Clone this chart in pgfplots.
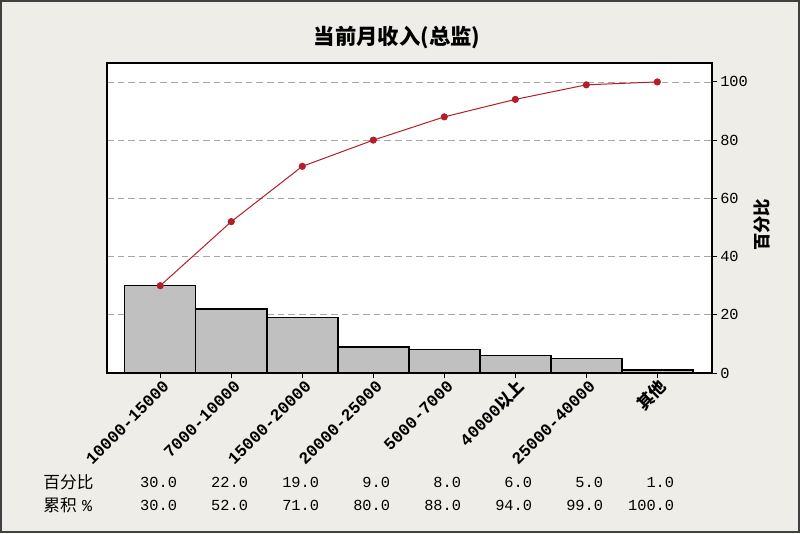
\documentclass[border=0pt]{standalone}
\usepackage{fontspec}
\usepackage{pgfplots}
\pgfplotsset{compat=1.18}
\setmainfont{Liberation Serif}
\newfontfamily\cjk{Noto Sans CJK SC}
\newfontfamily\mono{Liberation Mono}
\definecolor{bg}{RGB}{238,237,232}
\definecolor{barfill}{RGB}{192,192,192}
\definecolor{cumred}{RGB}{180,30,40}
\tikzset{tablerow/.style={anchor=east, font=\mono\fontsize{11.5}{12}\selectfont, inner sep=0pt}}
\begin{document}
\begin{tikzpicture}
\fill[bg] (0,0) rectangle (600pt,399.75pt);
\draw[black!75, line width=1.2pt] (0.6pt,0.6pt) rectangle (599.4pt,399.15pt);
\begin{axis}[
  at={(80.25pt,120pt)}, anchor=south west,
  scale only axis, width=453.75pt, height=232.5pt,
  xmin=-0.75, xmax=7.77, ymin=0, ymax=106.5,
  axis background/.style={fill=white},
  axis line style={black, line width=1.1pt},
  xtick={0,...,7},
  xticklabels={10000-15000,7000-10000,15000-20000,20000-25000,5000-7000,40000{\cjk 以上},25000-40000,{\cjk 其他}},
  xticklabel style={rotate=45, anchor=east, font=\mono\bfseries\fontsize{12.5}{13}\selectfont, inner sep=1pt, yshift=-6pt, xshift=1.5pt},
  ytick={0,20,...,100},
  ytick pos=right, yticklabel pos=right, xtick pos=bottom,
  tick align=outside, major tick length=4pt,
  tick style={black, line width=0.75pt},
  /pgf/number format/assume math mode=true,
  yticklabel style={font=\mono\fontsize{11.5}{12}\selectfont, inner sep=2pt},
  ymajorgrids, grid style={dash pattern=on 5pt off 3pt, black!35, line width=0.6pt},
  clip=false,
]
\addplot[ybar, bar width=1, fill=barfill, draw=black, line width=1.1pt] coordinates {
  (0,30) (1,22) (2,19) (3,9) (4,8) (5,6) (6,5) (7,1)};
\addplot[cumred, line width=0.75pt, mark=*, mark size=2.3pt, mark options={fill=cumred, draw=cumred}] coordinates {
  (0,30) (1,52) (2,71) (3,80) (4,88) (5,94) (6,99) (7,100)};
\node[rotate=90, font=\cjk\bfseries\fontsize{13}{13}\selectfont] at (axis cs:8.48,50.9) {百分比};
\node[anchor=west, font=\cjk\fontsize{12.5}{13}\selectfont, inner sep=0pt] at (axis cs:-1.648,-37.46) {百分比};
\node[anchor=west, font=\cjk\fontsize{12.5}{13}\selectfont, inner sep=0pt] at (axis cs:-1.648,-45.36) {累积\hspace{4pt}{\mono\%}};
\node[tablerow] at (axis cs:0.24,-37.46) {30.0};
\node[tablerow] at (axis cs:1.24,-37.46) {22.0};
\node[tablerow] at (axis cs:2.24,-37.46) {19.0};
\node[tablerow] at (axis cs:3.24,-37.46) {9.0};
\node[tablerow] at (axis cs:4.24,-37.46) {8.0};
\node[tablerow] at (axis cs:5.24,-37.46) {6.0};
\node[tablerow] at (axis cs:6.24,-37.46) {5.0};
\node[tablerow] at (axis cs:7.24,-37.46) {1.0};
\node[tablerow] at (axis cs:0.24,-45.36) {30.0};
\node[tablerow] at (axis cs:1.24,-45.36) {52.0};
\node[tablerow] at (axis cs:2.24,-45.36) {71.0};
\node[tablerow] at (axis cs:3.24,-45.36) {80.0};
\node[tablerow] at (axis cs:4.24,-45.36) {88.0};
\node[tablerow] at (axis cs:5.24,-45.36) {94.0};
\node[tablerow] at (axis cs:6.24,-45.36) {99.0};
\node[tablerow] at (axis cs:7.24,-45.36) {100.0};
\end{axis}
\node[font=\cjk\bfseries\fontsize{16}{16}\selectfont] at (297.75pt,371.25pt) {当前月收入(总监)};
\end{tikzpicture}
\end{document}
